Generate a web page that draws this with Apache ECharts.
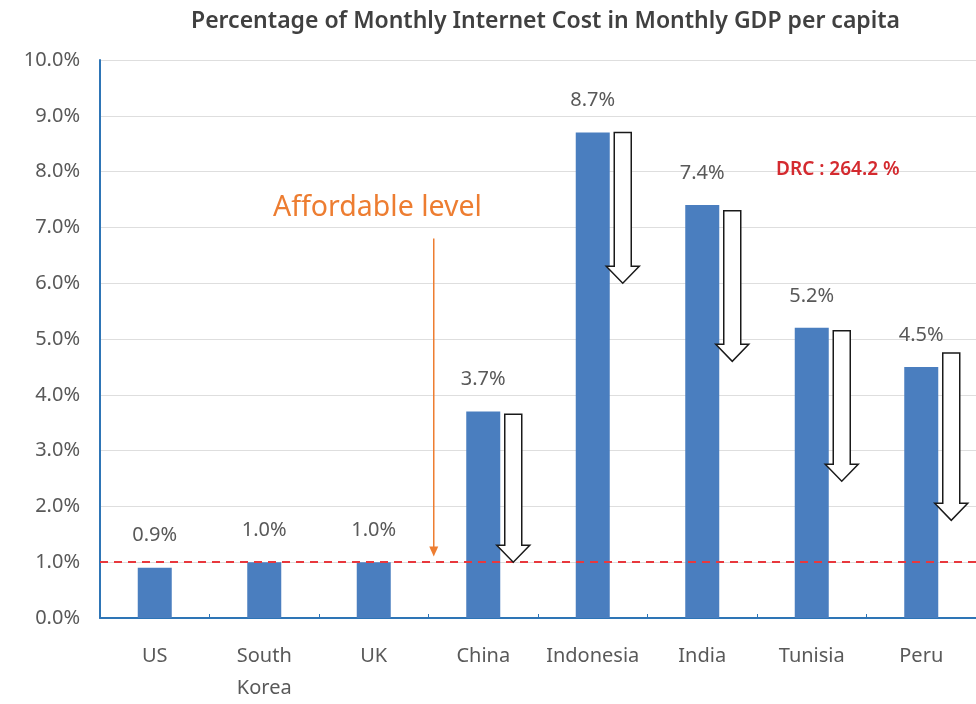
<!DOCTYPE html>
<html>
<head>
<meta charset="utf-8">
<script src="https://cdn.jsdelivr.net/npm/echarts@6/dist/echarts.min.js"></script>
<style>html,body{margin:0;padding:0;background:#fff}#c{width:976px;height:704px}</style>
</head>
<body>
<div id="c"></div>
<script>
const categories = ['US', 'South\nKorea', 'UK', 'China', 'Indonesia', 'India', 'Tunisia', 'Peru'];
const costShare = [0.9, 1.0, 1.0, 3.7, 8.7, 7.4, 5.2, 4.5];
const affordableLevel = 1.0;
// hollow arrows: [category index, start value, end value]
const arrowIdx = [3, 4, 5, 6, 7];
const arrowStart = [3.65, 8.7, 7.3, 5.15, 4.75];
const arrowEnd = [1.0, 6.0, 4.6, 2.45, 1.75];
// orange "Affordable level" pointer: [category index, start, end]
const pointerArrow = [[2, 6.8, 1.1]];
const yTicks = [0, 10, 1];

const FONT = 'Noto Sans';
const chart = echarts.init(document.getElementById('c'));

const arrowData = arrowIdx.map((c, i) => [c, arrowStart[i], arrowEnd[i]]);

chart.setOption({
  animation: false,
  title: {
    text: 'Percentage of Monthly Internet Cost in Monthly GDP per capita',
    left: 186, top: 5,
    textStyle: { fontFamily: FONT, fontSize: 23, fontWeight: 600, color: '#404040' }
  },
  grid: { left: 100, right: 0, top: 60, bottom: 85 },
  xAxis: {
    type: 'category',
    data: categories,
    axisLine: { lineStyle: { color: '#2e75b6', width: 2 } },
    axisTick: { show: true, inside: true, length: 4, lineStyle: { color: '#2e75b6' } },
    axisLabel: { interval: 0, fontFamily: FONT, fontSize: 20, color: '#595959', margin: 22, lineHeight: 32 }
  },
  yAxis: {
    type: 'value',
    min: yTicks[0], max: yTicks[1], interval: yTicks[2],
    axisLine: { show: true, lineStyle: { color: '#2e75b6', width: 2 } },
    axisTick: { show: false },
    axisLabel: { fontFamily: FONT, fontSize: 20, color: '#595959', margin: 20,
      formatter: v => v.toFixed(1) + '%' },
    splitLine: { lineStyle: { color: '#dedede', width: 1 } }
  },
  series: [
    {
      type: 'bar',
      data: costShare,
      barWidth: 34,
      itemStyle: { color: '#4a7ebf' },
      label: { show: true, position: 'top', distance: 22, fontFamily: FONT, fontSize: 20,
        color: '#595959', formatter: p => p.value.toFixed(1) + '%' },
      markLine: {
        silent: true, symbol: 'none', label: { show: false },
        lineStyle: { color: '#e8383d', width: 2, type: [8, 6] },
        data: [{ yAxis: affordableLevel }]
      },
      z: 2
    },
    {
      type: 'custom',
      data: arrowData,
      z: 5,
      renderItem: (params, api) => {
        const p1 = api.coord([api.value(0), api.value(1)]);
        const p2 = api.coord([api.value(0), api.value(2)]);
        const x = p1[0] + 30, sw = 8.5, hw = 16.5, hl = 17;
        const y1 = p1[1], y2 = p2[1];
        return {
          type: 'polygon',
          shape: { points: [
            [x - sw, y1], [x + sw, y1], [x + sw, y2 - hl], [x + hw, y2 - hl],
            [x, y2], [x - hw, y2 - hl], [x - sw, y2 - hl]
          ] },
          style: { fill: '#ffffff', stroke: '#1a1a1a', lineWidth: 1.5 }
        };
      }
    },
    {
      type: 'custom',
      data: pointerArrow,
      z: 5,
      renderItem: (params, api) => {
        const p1 = api.coord([api.value(0), api.value(1)]);
        const p2 = api.coord([api.value(0), api.value(2)]);
        const x = p1[0] + 60;
        return {
          type: 'group',
          children: [
            { type: 'line', shape: { x1: x, y1: p1[1], x2: x, y2: p2[1] - 8 },
              style: { stroke: '#ed7d31', lineWidth: 1.5 } },
            { type: 'polygon', shape: { points: [[x - 4.5, p2[1] - 10], [x + 4.5, p2[1] - 10], [x, p2[1]]] },
              style: { fill: '#ed7d31' } }
          ]
        };
      }
    }
  ],
  graphic: [
    { type: 'text', left: 273, top: 193, z: 10,
      style: { text: 'Affordable level', fontFamily: FONT, fontSize: 28.5, fill: '#ed7d31' } },
    { type: 'text', left: 776, top: 160, z: 10,
      style: { text: 'DRC : 264.2 %', fontFamily: FONT, fontSize: 19, fontWeight: 600, fill: '#d42a2f' } }
  ]
});
</script>
</body>
</html>
